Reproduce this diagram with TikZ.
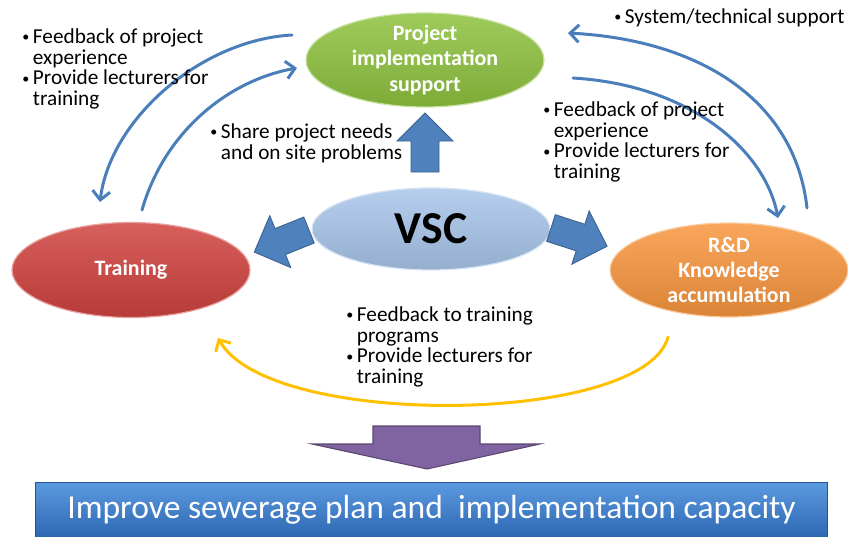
\documentclass[tikz,border=0pt]{standalone}
\usepackage{fontspec}
\setmainfont{Carlito}
\usetikzlibrary{arrows.meta,shapes.geometric}

\definecolor{linkblue}{HTML}{4A7EBB}
\definecolor{blockblue}{HTML}{4F81BD}
\definecolor{flowyellow}{HTML}{FFC000}
\definecolor{pisgreen}{HTML}{8EC23F}
\definecolor{trnred}{HTML}{D0433F}
\definecolor{rndorange}{HTML}{F8963F}
\definecolor{vscblue}{HTML}{A9C6EA}
\definecolor{arrowpurple}{HTML}{8064A2}
\definecolor{bartop}{HTML}{5C9AE0}
\definecolor{barbottom}{HTML}{2D68B2}

% bullet and the indent of a wrapped line
\newcommand{\bul}{\makebox[0.5em][l]{\raisebox{0.08em}{\footnotesize\textbullet}}}
\newcommand{\ind}{\hspace*{0.5em}}

\begin{document}
\begin{tikzpicture}[x=0.02cm, y=-0.02cm,
    oval/.style={ellipse, draw=#1!50!white, line width=0.7pt,
        top color=#1!85!white, bottom color=#1!88!black,
        minimum width=4.76cm, minimum height=1.88cm,
        inner xsep=0pt, inner ysep=-6pt, align=center, text=white,
        font=\bfseries\fontsize{12.5}{14.5}\selectfont},
    note/.style={inner sep=0pt, anchor=north west, align=left,
        font=\fontsize{12.1}{11.9}\selectfont},
    link/.style={line width=1.7pt, draw=linkblue, line cap=round,
        -{Straight Barb[length=5pt,width=10pt]}},
    block/.style={fill=blockblue, draw=blockblue!75!black, line width=0.5pt}]
    \useasboundingbox (0,0) rectangle (848,537);

    % the four ellipses
    \node[oval=pisgreen] (pis) at (425,60) {Project\\implementation\\support};
    \node[oval=vscblue, minimum height=1.64cm, text=black,
        font=\bfseries\fontsize{26}{30}\selectfont] (vsc) at (431,229) {VSC};
    \node[oval=trnred, minimum height=1.9cm] (trn) at (131,270) {Training};
    \node[oval=rndorange] (rnd) at (729,270) {R\&D\\Knowledge\\accumulation};

    % block arrows out of VSC
    \begin{scope}[shift={(425,172)}, rotate=90]
        \filldraw[block] (0,-14) -- (31,-14) -- (31,-28) -- (59,0) -- (31,28) -- (31,14) -- (0,14) -- cycle;
    \end{scope}
    \begin{scope}[shift={(309,230)}, rotate=202]
        \filldraw[block] (0,-14) -- (31,-14) -- (31,-28) -- (59,0) -- (31,28) -- (31,14) -- (0,14) -- cycle;
    \end{scope}
    \begin{scope}[shift={(551,228)}, rotate=-18]
        \filldraw[block] (0,-14) -- (31,-14) -- (31,-28) -- (59,0) -- (31,28) -- (31,14) -- (0,14) -- cycle;
    \end{scope}

    % curved links
    \coordinate (tlo) at (292,35);   \coordinate (tloend) at (100,202);
    \coordinate (tli) at (142,210);  \coordinate (tliend) at (297,68);
    \coordinate (tro) at (807,208);  \coordinate (troend) at (568,33);
    \coordinate (tri) at (573,78);   \coordinate (triend) at (778,218);
    \coordinate (bot) at (668,337);  \coordinate (botend) at (218,338);

    \draw[link] (tlo) .. controls (200,40) and (110,120) .. (tloend);
    \draw[link] (tli) .. controls (165,130) and (230,80) .. (tliend);
    \draw[link] (tro) .. controls (795,100) and (700,40) .. (troend);
    \draw[link] (tri) .. controls (690,85) and (765,150) .. (triend);
    \draw[link, draw=flowyellow] (bot) .. controls (645,425) and (270,430) .. (botend);

    % notes
    \node[note] (fbl) at (22,28) {\bul Feedback of project\\\ind experience\\\bul Provide lecturers for\\\ind training};
    \node[note] (shr) at (210,123) {\bul Share project needs\\\ind and on site problems};
    \node[note] (sys) at (614,8) {\bul System/technical support};
    \node[note] (fbr) at (543,101) {\bul Feedback of project\\\ind experience\\\bul Provide lecturers for\\\ind training};
    \node[note] (fbt) at (346,306) {\bul Feedback to training\\\ind programs\\\bul Provide lecturers for\\\ind training};

    % result
    \filldraw[fill=arrowpurple, draw=arrowpurple!70!black, line width=0.6pt]
        (373,426) -- (480,426) -- (480,444) -- (540,444) -- (427,469) -- (312,444) -- (373,444) -- cycle;
    \node[rectangle, minimum width=15.86cm, minimum height=1.1cm, inner sep=0pt,
        top color=bartop, bottom color=barbottom,
        draw=barbottom!80!black, line width=0.5pt, text=white,
        font=\fontsize{19.1}{23}\selectfont] (imp) at (431.5,509.5)
        {Improve sewerage plan and\ \ implementation capacity};
\end{tikzpicture}
\end{document}
